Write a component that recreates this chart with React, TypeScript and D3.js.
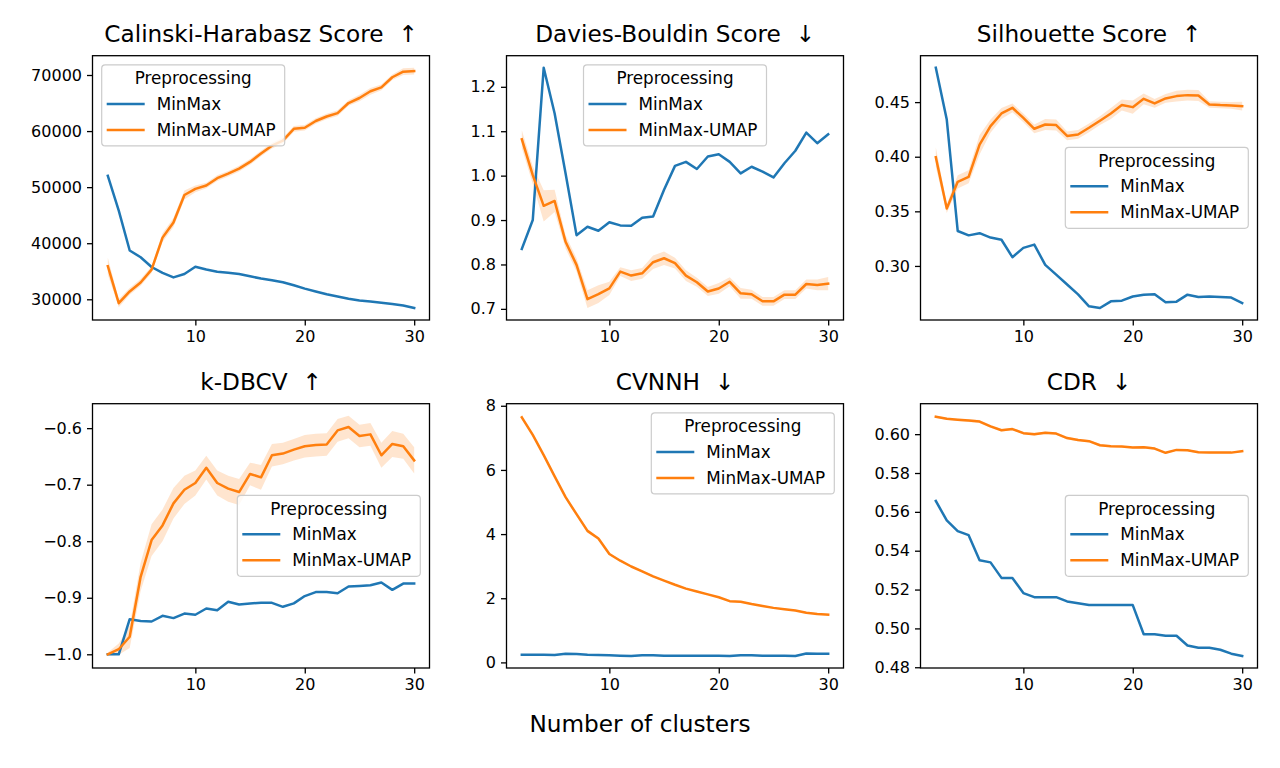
import {useEffect, useRef} from "react"

import * as d3 from "d3"

const clusters = [
  2, 3, 4, 5, 6, 7, 8, 9, 10, 11, 12, 13, 14, 15, 16, 17, 18, 19, 20, 21, 22,
  23, 24, 25, 26, 27, 28, 29, 30,
]

// Calinski-Harabasz
const chMinMax = [
  52000, 45800, 38700, 37500, 35760, 34700, 33900, 34500, 35800, 35300, 34900,
  34750, 34500, 34100, 33700, 33400, 33050, 32500, 31900, 31400, 30900, 30500,
  30100, 29800, 29600, 29400, 29150, 28900, 28450,
]
const chUmap = [
  35900, 29300, 31400, 33000, 35300, 41000, 43700, 48600, 49700, 50300, 51600,
  52400, 53300, 54500, 56000, 57400, 58300, 60400, 60600, 61800, 62600, 63200,
  65000, 65900, 67100, 67800, 69600, 70600, 70700,
]
const chUmapSd = [
  1500, 700, 600, 600, 600, 800, 800, 800, 600, 500, 500, 500, 500, 500, 500,
  500, 500, 500, 500, 500, 500, 500, 500, 600, 600, 500, 500, 600, 600,
]

// Davies-Bouldin
const dbMinMax = [
  0.835, 0.9, 1.243, 1.14, 1.005, 0.866, 0.885, 0.876, 0.895, 0.888, 0.887,
  0.905, 0.908, 0.968, 1.022, 1.031, 1.015, 1.043, 1.048, 1.031, 1.005, 1.02,
  1.009, 0.996, 1.028, 1.056, 1.097, 1.073, 1.093,
]
const dbUmap = [
  1.082, 1.001, 0.932, 0.943, 0.851, 0.799, 0.722, 0.733, 0.746, 0.784, 0.775,
  0.78, 0.805, 0.814, 0.803, 0.775, 0.76, 0.739, 0.746, 0.761, 0.735, 0.733,
  0.717, 0.717, 0.732, 0.732, 0.756, 0.754, 0.757,
]
const dbUmapSd = [
  0.02, 0.02, 0.035, 0.025, 0.015, 0.015, 0.02, 0.02, 0.015, 0.01, 0.012,
  0.012, 0.015, 0.015, 0.012, 0.012, 0.01, 0.01, 0.012, 0.01, 0.012, 0.01,
  0.01, 0.01, 0.01, 0.01, 0.01, 0.012, 0.015,
]

// Silhouette
const silMinMax = [
  0.4815, 0.434, 0.332, 0.328, 0.33, 0.326, 0.324, 0.308, 0.3165, 0.3195,
  0.301, 0.292, 0.283, 0.274, 0.263, 0.2615, 0.2676, 0.2682, 0.272, 0.2737,
  0.274, 0.2667, 0.2673, 0.2737, 0.2716, 0.272, 0.2716, 0.271, 0.266,
]
const silUmap = [
  0.3996, 0.3525, 0.377, 0.3816, 0.411, 0.428, 0.4396, 0.4448, 0.4356, 0.4256,
  0.4295, 0.429, 0.419, 0.4204, 0.4265, 0.433, 0.4396, 0.4473, 0.4454, 0.453,
  0.4488, 0.4534, 0.4555, 0.4564, 0.4561, 0.4479, 0.4473, 0.447, 0.4463,
]
const silUmapSd = [
  0.009, 0.004, 0.006, 0.006, 0.009, 0.006, 0.005, 0.004, 0.004, 0.004, 0.005,
  0.005, 0.004, 0.004, 0.004, 0.004, 0.005, 0.005, 0.006, 0.005, 0.004, 0.004,
  0.005, 0.005, 0.005, 0.003, 0.003, 0.003, 0.004,
]

// k-DBCV
const dbcvMinMax = [
  -1.0, -1.0, -0.938, -0.941, -0.942, -0.932, -0.936, -0.928, -0.93, -0.919,
  -0.922, -0.907, -0.912, -0.91, -0.909, -0.909, -0.916, -0.91, -0.897, -0.89,
  -0.89, -0.892, -0.88, -0.879, -0.878, -0.873, -0.886, -0.875, -0.875,
]
const dbcvUmap = [
  -1.0, -0.991, -0.969, -0.863, -0.798, -0.772, -0.733, -0.709, -0.697, -0.67,
  -0.697, -0.707, -0.713, -0.681, -0.687, -0.648, -0.645, -0.638, -0.632,
  -0.63, -0.629, -0.604, -0.598, -0.614, -0.611, -0.648, -0.628, -0.632,
  -0.657,
]
const dbcvUmapSd = [
  0.003, 0.01, 0.02, 0.025, 0.028, 0.028, 0.027, 0.025, 0.022, 0.021, 0.022,
  0.023, 0.023, 0.02, 0.022, 0.02, 0.019, 0.019, 0.02, 0.02, 0.02, 0.02, 0.02,
  0.02, 0.02, 0.022, 0.023, 0.022, 0.023,
]

// CVNNH
const cvnnhMinMax = [
  0.24, 0.24, 0.24, 0.23, 0.27, 0.26, 0.24, 0.23, 0.22, 0.21, 0.2, 0.22, 0.22,
  0.21, 0.21, 0.21, 0.21, 0.21, 0.21, 0.2, 0.22, 0.22, 0.21, 0.21, 0.21, 0.2,
  0.28, 0.27, 0.27,
]
const cvnnhUmap = [
  7.64, 7.09, 6.46, 5.8, 5.15, 4.62, 4.1, 3.86, 3.38, 3.17, 2.99, 2.84, 2.68,
  2.55, 2.42, 2.3, 2.21, 2.12, 2.03, 1.91, 1.89, 1.82, 1.76, 1.7, 1.66, 1.62,
  1.55, 1.51, 1.49,
]
const cvnnhUmapSd = [
  0.05, 0.04, 0.04, 0.04, 0.05, 0.06, 0.06, 0.04, 0.03, 0.03, 0.03, 0.03, 0.03,
  0.02, 0.02, 0.02, 0.02, 0.02, 0.02, 0.02, 0.02, 0.02, 0.02, 0.02, 0.02, 0.02,
  0.02, 0.02, 0.02,
]

// CDR
const cdrMinMax = [
  0.5656, 0.5556, 0.5501, 0.548, 0.5351, 0.534, 0.526, 0.526, 0.5182, 0.5161,
  0.5161, 0.5161, 0.5139, 0.513, 0.512, 0.512, 0.512, 0.512, 0.512, 0.497,
  0.497, 0.4962, 0.4962, 0.4912, 0.49, 0.49, 0.489, 0.487, 0.4858,
]
const cdrUmap = [
  0.609, 0.6079, 0.6074, 0.607, 0.6065, 0.604, 0.602, 0.6026, 0.6005, 0.6,
  0.6007, 0.6003, 0.598, 0.597, 0.5964, 0.5943, 0.5938, 0.5936, 0.5931,
  0.5933, 0.5926, 0.5904, 0.5919, 0.5917, 0.5907, 0.5905, 0.5905, 0.5905,
  0.5912,
]
const cdrUmapSd = [
  0.0005, 0.0005, 0.0006, 0.0008, 0.0008, 0.0007, 0.0006, 0.0006, 0.0006,
  0.0007, 0.0006, 0.0006, 0.0007, 0.0007, 0.0006, 0.0006, 0.0005, 0.0005,
  0.0005, 0.0006, 0.0006, 0.0005, 0.0005, 0.0005, 0.0005, 0.0004, 0.0004,
  0.0004, 0.0005,
]

const xTicks = [10, 20, 30]
const chTicks = [30000, 40000, 50000, 60000, 70000]
const dbTicks = [0.7, 0.8, 0.9, 1.0, 1.1, 1.2]
const silTicks = [0.3, 0.35, 0.4, 0.45]
const dbcvTicks = [-1.0, -0.9, -0.8, -0.7, -0.6]
const cvnnhTicks = [0, 2, 4, 6, 8]
const cdrTicks = [0.48, 0.5, 0.52, 0.54, 0.56, 0.58, 0.6]

const seriesNames = ["MinMax", "MinMax-UMAP"]
const legendTitle = "Preprocessing"
const xLabel = "Number of clusters"

const panels = [
  {title: "Calinski-Harabasz Score", arrow: "\u2191", minmax: chMinMax, umap: chUmap, sd: chUmapSd, ticks: chTicks, fmt: "d", legend: "upper left"},
  {title: "Davies-Bouldin Score", arrow: "\u2193", minmax: dbMinMax, umap: dbUmap, sd: dbUmapSd, ticks: dbTicks, fmt: ".1f", legend: "upper center"},
  {title: "Silhouette Score", arrow: "\u2191", minmax: silMinMax, umap: silUmap, sd: silUmapSd, ticks: silTicks, fmt: ".2f", legend: "center right"},
  {title: "k-DBCV", arrow: "\u2191", minmax: dbcvMinMax, umap: dbcvUmap, sd: dbcvUmapSd, ticks: dbcvTicks, fmt: ".1f", legend: "center right"},
  {title: "CVNNH", arrow: "\u2193", minmax: cvnnhMinMax, umap: cvnnhUmap, sd: cvnnhUmapSd, ticks: cvnnhTicks, fmt: "d", legend: "upper right"},
  {title: "CDR", arrow: "\u2193", minmax: cdrMinMax, umap: cdrUmap, sd: cdrUmapSd, ticks: cdrTicks, fmt: ".2f", legend: "center right"},
]

const colors = ["#1f77b4", "#ff7f0e"]
const font = "DejaVu Sans, Liberation Sans, sans-serif"

const colLefts = [92.5, 506.5, 920.5]
const rowTops = [55.7, 403.7]
const axW = 337
const axH = 264.3
const legW = 183
const legH = 81
const legPad = 9.2

const App = (): JSX.Element => {
  const ref = useRef<SVGSVGElement>(null)

  useEffect(() => {
    const svg = d3.select(ref.current)
    svg.selectAll("*").remove()

    svg.append("rect").attr("width", 1280).attr("height", 768).attr("fill", "white")

    panels.forEach((panel, i) => {
      const x0 = colLefts[i % 3]
      const y0 = rowTops[Math.floor(i / 3)]

      const xScale = d3.scaleLinear().domain([0.6, 31.4]).range([x0, x0 + axW])

      // autoscale like matplotlib: data (with band) plus 5% margin
      const lo = Math.min(
        d3.min(panel.minmax) as number,
        d3.min(panel.umap, (v, j) => v - panel.sd[j]) as number,
      )
      const hi = Math.max(
        d3.max(panel.minmax) as number,
        d3.max(panel.umap, (v, j) => v + panel.sd[j]) as number,
      )
      const pad = (hi - lo) * 0.05
      const yScale = d3.scaleLinear().domain([lo - pad, hi + pad]).range([y0 + axH, y0])

      const g = svg.append("g")

      const area = d3
        .area<number>()
        .x((_, j) => xScale(clusters[j]))
        .y0((v, j) => yScale(v - panel.sd[j]))
        .y1((v, j) => yScale(v + panel.sd[j]))
      g.append("path")
        .attr("d", area(panel.umap))
        .attr("fill", colors[1])
        .attr("fill-opacity", 0.2)
        .attr("stroke", "none")

      const line = d3
        .line<number>()
        .x((_, j) => xScale(clusters[j]))
        .y((v) => yScale(v))

      ;[panel.minmax, panel.umap].forEach((series, k) => {
        g.append("path")
          .attr("d", line(series))
          .attr("fill", "none")
          .attr("stroke", colors[k])
          .attr("stroke-width", 2.5)
          .attr("stroke-linejoin", "round")
          .attr("stroke-linecap", "square")
      })

      const xAxis = d3
        .axisBottom(xScale)
        .tickValues(xTicks)
        .tickSize(5.5)
        .tickPadding(5)
        .tickFormat(d3.format("d"))
      const yAxis = d3
        .axisLeft(yScale)
        .tickValues(panel.ticks)
        .tickSize(5.5)
        .tickPadding(5)
        .tickFormat(d3.format(panel.fmt))

      const xg = g.append("g").attr("transform", `translate(0,${y0 + axH})`).call(xAxis)
      const yg = g.append("g").attr("transform", `translate(${x0},0)`).call(yAxis)
      ;[xg, yg].forEach((ax) => {
        ax.select(".domain").remove()
        ax.selectAll(".tick line").attr("stroke", "black").attr("stroke-width", 1.3)
        ax.selectAll(".tick text")
          .attr("fill", "black")
          .attr("font-family", font)
          .attr("font-size", 16)
      })

      g.append("rect")
        .attr("x", x0)
        .attr("y", y0)
        .attr("width", axW)
        .attr("height", axH)
        .attr("fill", "none")
        .attr("stroke", "black")
        .attr("stroke-width", 1.3)

      g.append("text")
        .attr("x", x0 + axW / 2)
        .attr("y", y0 - 13.5)
        .attr("text-anchor", "middle")
        .attr("font-family", font)
        .attr("font-size", 23.2)
        .text(`${panel.title}\u00a0\u00a0${panel.arrow}`)

      // legend
      let lx = x0 + legPad
      let ly = y0 + legPad
      if (panel.legend === "upper center") lx = x0 + axW / 2 - legW / 2
      if (panel.legend === "upper right") lx = x0 + axW - legPad - legW
      if (panel.legend === "center right") {
        lx = x0 + axW - legPad - legW
        ly = y0 + axH / 2 - legH / 2
      }
      const lg = g.append("g").attr("transform", `translate(${lx},${ly})`)
      lg.append("rect")
        .attr("width", legW)
        .attr("height", legH)
        .attr("rx", 3.5)
        .attr("fill", "white")
        .attr("fill-opacity", 0.8)
        .attr("stroke", "#cccccc")
        .attr("stroke-width", 1.2)
      lg.append("text")
        .attr("x", legW / 2)
        .attr("y", 19.5)
        .attr("text-anchor", "middle")
        .attr("font-family", font)
        .attr("font-size", 16.8)
        .text(legendTitle)
      seriesNames.forEach((name, k) => {
        const yy = 39 + k * 26
        lg.append("line")
          .attr("x1", 5)
          .attr("x2", 43)
          .attr("y1", yy)
          .attr("y2", yy)
          .attr("stroke", colors[k])
          .attr("stroke-width", 2.5)
        lg.append("text")
          .attr("x", 55)
          .attr("y", yy + 6)
          .attr("font-family", font)
          .attr("font-size", 16.8)
          .text(name)
      })
    })

    svg.append("text")
      .attr("x", 640)
      .attr("y", 732)
      .attr("text-anchor", "middle")
      .attr("font-family", font)
      .attr("font-size", 23.2)
      .text(xLabel)
  }, [])

  return (
    <svg
      ref={ref}
      width={1280}
      height={768}
      style={{position: "absolute", left: 0, top: 0}}
    />
  )
}

export default App
